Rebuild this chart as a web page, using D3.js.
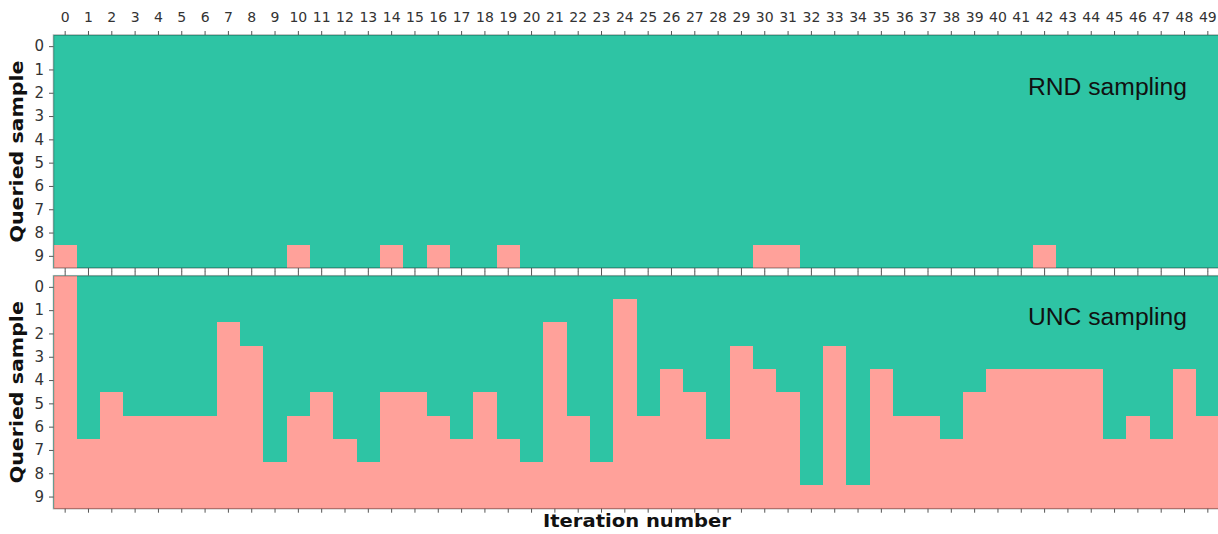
<!DOCTYPE html>
<html>
<head>
<meta charset="utf-8">
<script src="https://cdn.jsdelivr.net/npm/d3@7"></script>
<style>
  body { margin: 0; background: #fff; }
  .tick text { font-family: "DejaVu Sans", sans-serif; font-size: 14px; fill: #333; }
  .yaxis .tick text { font-size: 15px; }
  .tick line { stroke: #555; stroke-width: 1; }
  .domain { display: none; }
</style>
</head>
<body>
<div id="graph"></div>
<script>
const iterations = [0, 1, 2, 3, 4, 5, 6, 7, 8, 9, 10, 11, 12, 13, 14, 15, 16, 17, 18, 19,
  20, 21, 22, 23, 24, 25, 26, 27, 28, 29, 30, 31, 32, 33, 34, 35, 36, 37, 38, 39,
  40, 41, 42, 43, 44, 45, 46, 47, 48, 49];
const samples = [0, 1, 2, 3, 4, 5, 6, 7, 8, 9];

// RND sampling: iterations at which sample 9 is marked as queried
const rndQueried = [0, 10, 14, 16, 19, 30, 31, 42];
// UNC sampling: first marked sample per iteration (that one and all below it)
const uncFirst = [0, 7, 5, 6, 6, 6, 6, 2, 3, 8, 6, 5, 7, 8, 5, 5, 6, 7, 5, 7,
  8, 2, 6, 8, 1, 6, 4, 5, 7, 3, 4, 5, 9, 3, 9, 4, 6, 6, 7, 5,
  4, 4, 4, 4, 4, 7, 6, 7, 4, 6];

const green = "#2ec4a4";
const pink = "#ffa19a";

const svg = d3.select("#graph").append("svg")
  .attr("width", 1218)
  .attr("height", 534);

const x = d3.scaleBand().domain(iterations).range([53.5, 1219.5]);

function cellsFor(isOn) {
  const out = [];
  iterations.forEach(function (it, i) {
    samples.forEach(function (s) {
      if (isOn(i, s)) out.push({ it: it, s: s });
    });
  });
  return out;
}

const rndCells = cellsFor(function (i, s) { return s === 9 && rndQueried.includes(iterations[i]); });
const uncCells = cellsFor(function (i, s) { return s >= uncFirst[i]; });

function panel(top, cells, name, nameY, showTopLabels) {
  const y = d3.scaleBand().domain(samples).range([top, top + 233]);
  const g = svg.append("g");

  g.append("rect")
    .attr("x", x.range()[0])
    .attr("y", y.range()[0])
    .attr("width", x.range()[1] - x.range()[0])
    .attr("height", 233)
    .attr("fill", green);

  g.selectAll("rect.cell")
    .data(cells)
    .enter().append("rect")
    .attr("class", "cell")
    .attr("x", function (d) { return x(d.it); })
    .attr("y", function (d) { return y(d.s); })
    .attr("width", x.bandwidth())
    .attr("height", y.bandwidth())
    .attr("fill", pink)
    .attr("shape-rendering", "crispEdges");

  // frame
  g.append("rect")
    .attr("x", x.range()[0])
    .attr("y", y.range()[0])
    .attr("width", x.range()[1] - x.range()[0])
    .attr("height", 233)
    .attr("fill", "none")
    .attr("stroke", "rgba(0,0,0,0.3)")
    .attr("stroke-width", 1.5);

  g.append("g")
    .attr("transform", "translate(0," + top + ")")
    .call(d3.axisTop(x).tickSize(4).tickPadding(9)
      .tickFormat(showTopLabels ? function (d) { return d; } : function () { return ""; }));

  g.append("g")
    .attr("transform", "translate(0," + (top + 233) + ")")
    .call(d3.axisBottom(x).tickSize(4).tickFormat(function () { return ""; }));

  g.append("g")
    .attr("class", "yaxis")
    .attr("transform", "translate(" + x.range()[0] + ",0)")
    .call(d3.axisLeft(y).tickSize(4.5).tickPadding(5));

  g.append("text")
    .attr("x", 1187)
    .attr("y", nameY)
    .attr("text-anchor", "end")
    .attr("font-family", "Liberation Sans, Arial, sans-serif")
    .attr("font-size", 23)
    .attr("textLength", 159)
    .attr("lengthAdjust", "spacingAndGlyphs")
    .attr("fill", "#111")
    .text(name);

  g.append("text")
    .attr("transform", "translate(23," + (top + 116.5) + ") rotate(-90)")
    .attr("text-anchor", "middle")
    .attr("font-family", "DejaVu Sans, sans-serif")
    .attr("font-weight", "bold")
    .attr("font-size", 18)
    .attr("textLength", 182)
    .attr("lengthAdjust", "spacingAndGlyphs")
    .attr("fill", "#111")
    .text("Queried sample");
}

panel(35, rndCells, "RND sampling", 95, true);
panel(275.7, uncCells, "UNC sampling", 325, false);

svg.append("text")
  .attr("x", 637)
  .attr("y", 527)
  .attr("text-anchor", "middle")
  .attr("font-family", "DejaVu Sans, sans-serif")
  .attr("font-weight", "bold")
  .attr("font-size", 17)
  .attr("textLength", 188)
  .attr("lengthAdjust", "spacingAndGlyphs")
  .attr("fill", "#111")
  .text("Iteration number");
</script>
</body>
</html>
